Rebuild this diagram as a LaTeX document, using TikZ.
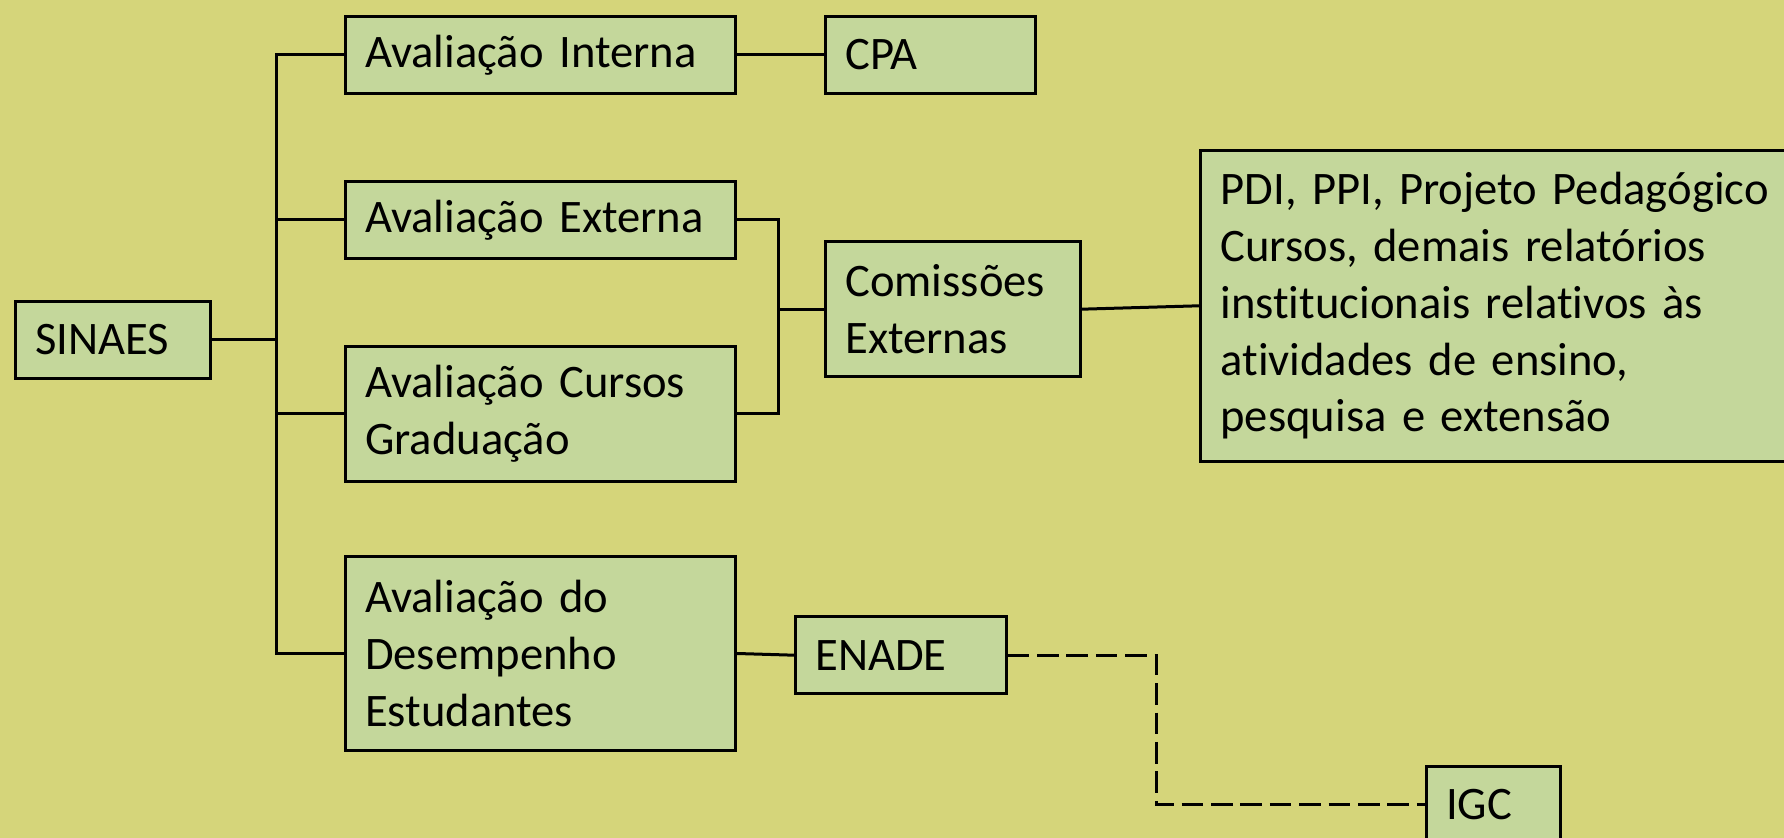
\documentclass[tikz,border=0pt]{standalone}
\usepackage{fontspec}
\setmainfont{Carlito}[Ligatures=NoCommon]
\usepackage{tikz}
\usetikzlibrary{arrows,shapes}
\definecolor{fundo}{RGB}{213,213,122}
\definecolor{verde}{RGB}{196,215,155}
\tikzstyle{box} = [rectangle, draw=black, line width=1.5pt, fill=verde, anchor=north west, align=left, inner xsep=10pt, inner ysep=2pt, font=\fontsize{23.3}{28.4}\selectfont]
\tikzstyle{conn} = [line width=1.5pt]
\tikzstyle{dashconn} = [line width=1.5pt, dash pattern=on 10.8pt off 3.9pt]

\begin{document}
\begin{tikzpicture}[x=0.5pt,y=-0.5pt]
\useasboundingbox (0,0) rectangle (1784,838);
\fill [fundo] (0,0) rectangle (1784,838);

\node (sin) [box, text width=77.7pt, minimum height=38.5pt] at (13.7,300) {SINAES};
\node (int) [box, text width=175.2pt, minimum height=38.7pt] at (343.6,14.8) {Avaliação Interna};
\node (cpa) [box, text width=85.2pt, minimum height=38.7pt] at (823.8,14.8) {CPA};
\node (ext) [box, text width=175.2pt, minimum height=38.7pt] at (343.6,179.8) {Avaliação Externa};
\node (cur) [box, text width=175.2pt, minimum height=67.7pt] at (343.6,344.7) {Avaliação Cursos\\Graduação};
\node (des) [box, text width=175.2pt, minimum height=96.8pt] at (343.6,555.2) {Avaliação do\\Desempenho\\Estudantes};
\node (com) [box, text width=107.4pt, minimum height=67.7pt] at (823.8,240) {Comissões\\Externas};
\node (pdi) [box, text width=280pt, minimum height=155.3pt] at (1199,149) {PDI, PPI, Projeto Pedagógico\\Cursos, demais relatórios\\institucionais relativos às\\atividades de ensino,\\pesquisa e extensão};
\node (ena) [box, text width=85.3pt, minimum height=38.2pt] at (794,615.5) {ENADE};
\node (igc) [box, text width=47.2pt, minimum height=38.5pt] at (1424.5,764.6) {IGC};

\coordinate (tr) at (276.5,0);
\coordinate (br) at (778.2,0);
\coordinate (dd) at (1156,0);

\draw [conn] (sin.east) -- (sin.east -| tr);
\draw [conn] (int.west) -| (tr |- des.west) -- (des.west);
\draw [conn] (ext.west) -- (ext.west -| tr);
\draw [conn] (cur.west) -- (cur.west -| tr);
\draw [conn] (int) -- (cpa);
\draw [conn] (ext.east) -| (br |- cur.east) -- (cur.east);
\draw [conn] (br |- com.west) -- (com.west);
\draw [conn] (com.east) -- (pdi.west);
\draw [conn] (des.east) -- (ena.west);
\draw [dashconn] (ena.east) -- (ena.east -| dd) -- (dd |- igc.west) -- (igc.west);
\end{tikzpicture}
\end{document}
